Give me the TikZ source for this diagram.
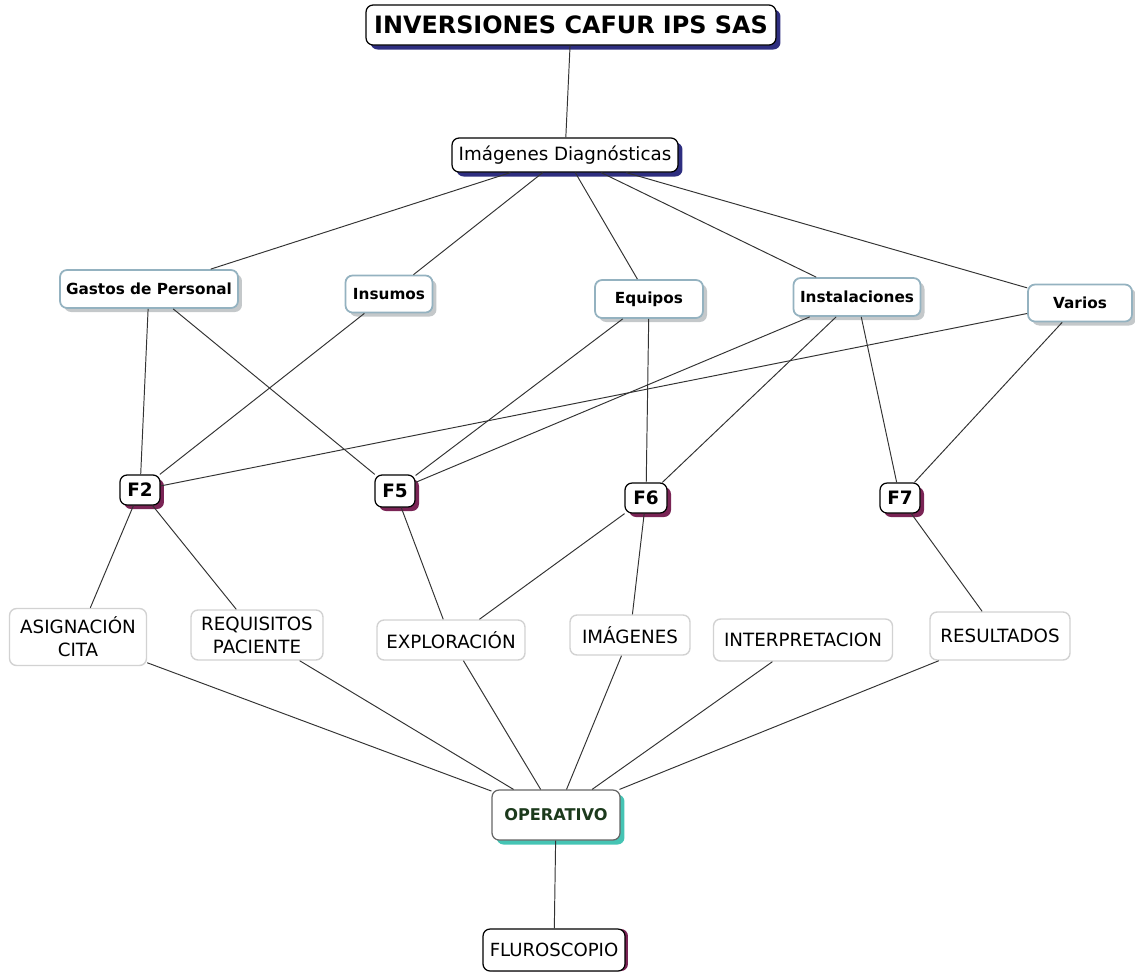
\documentclass[tikz,border=0pt]{standalone}
\usepackage{fontspec}
\setmainfont{DejaVu Sans}
\usepackage{tikz}
\usetikzlibrary{shadows}

\definecolor{navyshadow}{HTML}{2E2E80}
\definecolor{plumshadow}{HTML}{7A2455}
\definecolor{tealshadow}{HTML}{45C4B4}
\definecolor{greyshadow}{HTML}{C4C8CA}
\definecolor{blueborder}{HTML}{94B2C0}
\definecolor{paleborder}{HTML}{D2D2D2}
\definecolor{darkgreen}{HTML}{1C3A1C}

\begin{document}
\begin{tikzpicture}[x=0.02cm, y=-0.02cm,
    link/.style={draw=black!80, line width=0.55pt},
    topbox/.style={draw, rectangle, rounded corners=4pt, fill=white, line width=0.7pt,
        drop shadow={shadow xshift=0.09cm, shadow yshift=-0.09cm, fill=navyshadow, opacity=1}},
    costbox/.style={draw=blueborder, rectangle, rounded corners=4pt, fill=white, line width=1pt,
        font=\fontsize{8.7}{10}\selectfont\bfseries,
        drop shadow={shadow xshift=0.08cm, shadow yshift=-0.08cm, fill=greyshadow, opacity=1}},
    fbox/.style={draw, rectangle, rounded corners=4pt, fill=white, line width=0.7pt,
        font=\fontsize{10.5}{12}\selectfont\bfseries, minimum width=0.8cm, minimum height=0.6cm,
        drop shadow={shadow xshift=0.08cm, shadow yshift=-0.08cm, fill=plumshadow, opacity=1}},
    stagebox/.style={draw=paleborder, rectangle, rounded corners=4pt, fill=white, line width=0.8pt,
        align=center, font=\fontsize{10.4}{13}\selectfont}]
    \useasboundingbox (0,0) rectangle (1135,975);

    % Top levels
    \node[topbox, minimum width=8.2cm, minimum height=0.8cm, font=\fontsize{13.6}{15}\selectfont\bfseries] (empresa) at (571,25) {INVERSIONES CAFUR IPS SAS};
    \node[topbox, minimum width=4.52cm, minimum height=0.68cm, font=\fontsize{10.4}{12}\selectfont] (imagenes) at (565,155) {Imágenes Diagnósticas};

    % Cost groups
    \node[costbox, minimum width=3.56cm, minimum height=0.76cm] (gastos) at (149,289) {Gastos de Personal};
    \node[costbox, minimum width=1.74cm, minimum height=0.74cm] (insumos) at (389,294) {Insumos};
    \node[costbox, minimum width=2.16cm, minimum height=0.76cm] (equipos) at (649,299) {Equipos};
    \node[costbox, minimum width=2.54cm, minimum height=0.76cm] (instalaciones) at (857,297) {Instalaciones};
    \node[costbox, minimum width=2.08cm, minimum height=0.74cm] (varios) at (1080,303) {Varios};

    % Formats
    \node[fbox] (f2) at (140,490) {F2};
    \node[fbox, minimum height=0.64cm] (f5) at (395,491) {F5};
    \node[fbox, minimum width=0.84cm] (f6) at (646,498) {F6};
    \node[fbox] (f7) at (900,498) {F7};

    % Stages
    \node[stagebox, minimum width=2.74cm, minimum height=1.14cm] (asignacion) at (78,637) {ASIGNACIÓN\\CITA};
    \node[stagebox, minimum width=2.64cm, minimum height=1.0cm] (requisitos) at (257,635) {REQUISITOS\\PACIENTE};
    \node[stagebox, minimum width=2.96cm, minimum height=0.8cm] (exploracion) at (451,640) {EXPLORACIÓN};
    \node[stagebox, minimum width=2.4cm, minimum height=0.8cm] (imgs) at (630,635) {IMÁGENES};
    \node[stagebox, minimum width=3.58cm, minimum height=0.84cm] (interpretacion) at (803,640) {INTERPRETACION};
    \node[stagebox, minimum width=2.8cm, minimum height=0.96cm] (resultados) at (1000,636) {RESULTADOS};

    % Bottom
    \node[draw=black!60, rectangle, rounded corners=4pt, fill=white, line width=0.7pt,
        minimum width=2.56cm, minimum height=1.0cm, text=darkgreen,
        font=\fontsize{9.2}{11}\selectfont\bfseries,
        drop shadow={shadow xshift=0.09cm, shadow yshift=-0.09cm, fill=tealshadow, opacity=1}] (operativo) at (556,815) {OPERATIVO};
    \node[draw, rectangle, rounded corners=4pt, fill=white, line width=0.7pt,
        minimum width=2.84cm, minimum height=0.84cm, font=\fontsize{10.3}{12}\selectfont,
        drop shadow={shadow xshift=0.06cm, shadow yshift=0cm, fill=plumshadow, opacity=1}] (fluro) at (554,950) {FLUROSCOPIO};

    % Connections
    \draw[link] (empresa) -- (imagenes);
    \foreach \n in {gastos, insumos, equipos, instalaciones, varios}
        \draw[link] (imagenes) -- (\n);
    \draw[link] (gastos) -- (f2);
    \draw[link] (gastos) -- (f5);
    \draw[link] (insumos) -- (f2);
    \draw[link] (equipos) -- (f5);
    \draw[link] (equipos) -- (f6);
    \draw[link] (instalaciones) -- (f5);
    \draw[link] (instalaciones) -- (f6);
    \draw[link] (instalaciones) -- (f7);
    \draw[link] (varios) -- (f2);
    \draw[link] (varios) -- (f7);
    \draw[link] (f2) -- (asignacion);
    \draw[link] (f2) -- (requisitos);
    \draw[link] (f5) -- (exploracion);
    \draw[link] (f6) -- (exploracion);
    \draw[link] (f6) -- (imgs);
    \draw[link] (f7) -- (resultados);
    \foreach \n in {asignacion, requisitos, exploracion, imgs, interpretacion, resultados}
        \draw[link] (\n) -- (operativo);
    \draw[link] (operativo) -- (fluro);
\end{tikzpicture}
\end{document}
